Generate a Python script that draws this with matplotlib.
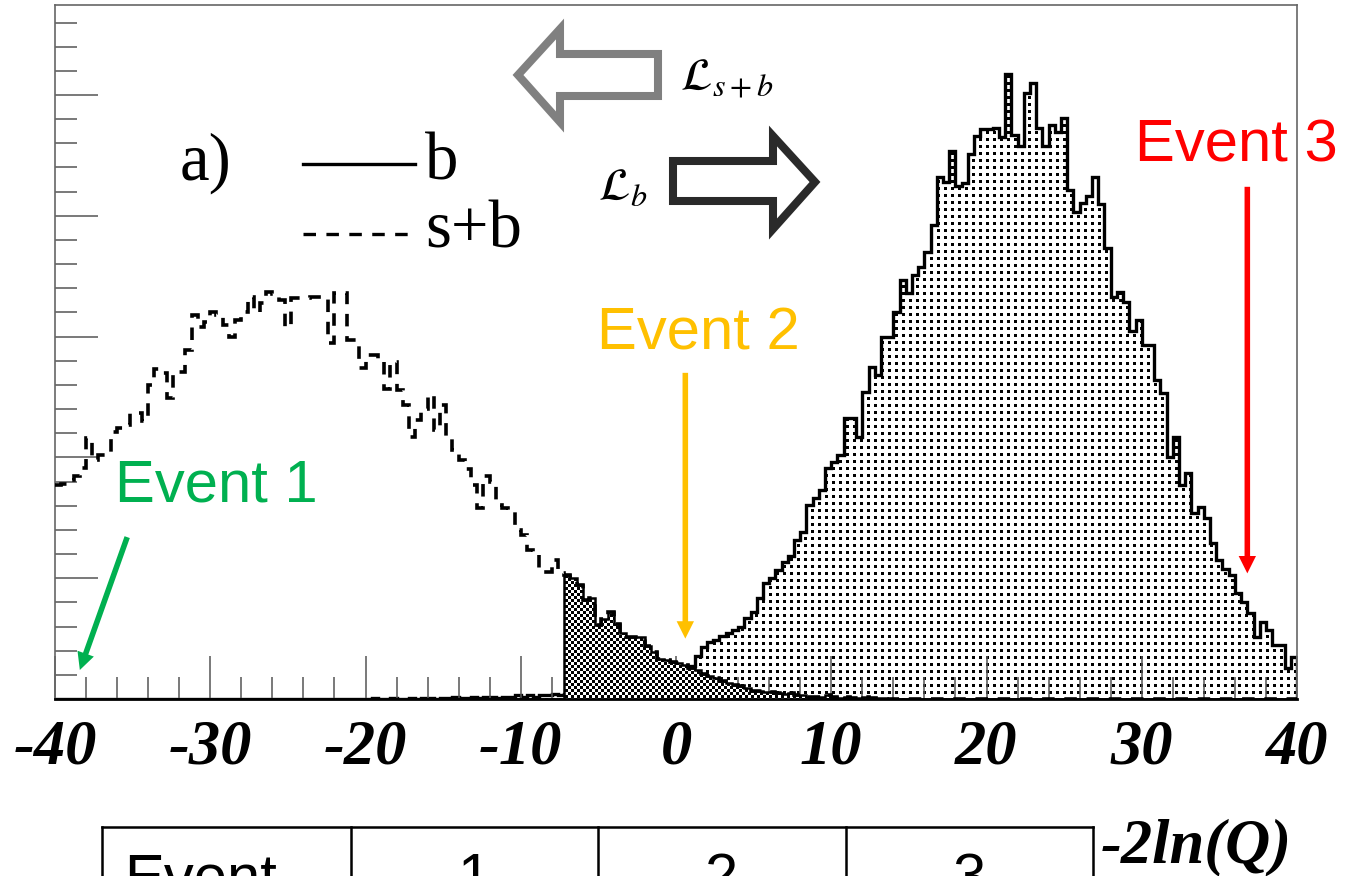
import numpy as np
import matplotlib
matplotlib.use("Agg")
import matplotlib.pyplot as plt
from matplotlib.patches import Polygon, FancyArrowPatch, ArrowStyle
from matplotlib.lines import Line2D
from matplotlib.ticker import MultipleLocator
from matplotlib.transforms import Affine2D
from matplotlib.font_manager import FontProperties

plt.rcParams["axes.unicode_minus"] = False
plt.rcParams["mathtext.fontset"] = "stix"
plt.rcParams["lines.scale_dashes"] = False

# ---------------------------------------------------------------- data
# binning of the test statistic -2ln(Q)
x_min, x_max, bin_width = -40.0, 40.0, 0.4
edges = np.linspace(x_min, x_max, 201)

# background-only pseudo-experiments (entries per bin)
b_counts = [
    0, 0, 0, 0, 0, 0, 0, 0, 0, 0,
    0, 0, 0, 0, 0, 0, 0, 0, 0, 0,
    0, 0, 0, 0, 0, 0, 0, 0, 0, 0,
    0, 0, 0, 0, 0, 0, 0, 0, 0, 0,
    0, 0, 0, 0, 0, 0, 0, 0, 0, 0,
    0, 1, 0, 0, 1, 0, 0, 1, 0, 1,
    1, 0, 1, 1, 2, 1, 1, 2, 1, 2,
    2, 1, 2, 2, 3, 2, 3, 2, 3, 3,
    4, 3, 4, 5, 4, 6, 5, 7, 6, 8,
    8, 9, 10, 11, 12, 13, 14, 16, 17, 19,
    21, 24, 27, 36, 43, 47, 49, 52, 55, 57,
    60, 67, 72, 84, 96, 100, 107, 113, 118, 132,
    138, 161, 166, 173, 191, 196, 202, 233, 233, 217,
    254, 275, 268, 300, 300, 320, 347, 336, 351, 358,
    370, 392, 432, 428, 454, 425, 427, 451, 466, 472,
    472, 473, 465, 517, 467, 458, 502, 510, 473, 458,
    475, 469, 481, 421, 403, 411, 416, 432, 410, 373,
    333, 337, 329, 305, 314, 293, 293, 264, 253, 200,
    217, 177, 187, 154, 159, 150, 129, 115, 108, 103,
    88, 80, 71, 51, 64, 57, 45, 45, 26, 35,
]

# signal+background pseudo-experiments (entries per bin)
sb_counts = [
    177, 178, 181, 185, 191, 216, 198, 202, 204, 221,
    224, 227, 237, 237, 230, 260, 273, 270, 249, 271,
    271, 289, 318, 308, 312, 320, 318, 310, 300, 314,
    320, 333, 320, 328, 337, 335, 330, 308, 332, 332,
    332, 333, 333, 331, 295, 336, 336, 297, 297, 274,
    285, 285, 281, 257, 279, 256, 243, 217, 231, 240,
    252, 223, 243, 215, 206, 198, 190, 177, 158, 185,
    180, 161, 158, 155, 140, 136, 123, 120, 105, 105,
    115, 104, 103, 100, 94, 82, 84, 61, 66, 72,
    62, 55, 51, 51, 51, 44, 39, 33, 32, 31,
    30, 28, 26, 24, 21, 19, 17, 15, 13, 12,
    11, 9, 7, 7, 6, 6, 5, 4, 5, 3,
    3, 2, 2, 2, 3, 2, 1, 2, 1, 1,
    2, 1, 1, 1, 0, 0, 0, 0, 0, 0,
    0, 0, 0, 0, 0, 0, 0, 0, 0, 0,
    0, 0, 0, 0, 0, 0, 0, 0, 0, 0,
    0, 0, 0, 0, 0, 0, 0, 0, 0, 0,
    0, 0, 0, 0, 0, 0, 0, 0, 0, 0,
    0, 0, 0, 0, 0, 0, 0, 0, 0, 0,
    0, 0, 0, 0, 0, 0, 0, 0, 0, 0,
]

# s+b tail shaded above this value of -2ln(Q)
tail_start = -7.2

# three example events: -2ln(Q) value and colour
event_names = ["Event 1", "Event 2", "Event 3"]
event_values = [-38.4, 0.6, 36.8]
event_colors = ["#00B050", "#FFC000", "#FF0000"]

tick_values = [-40, -30, -20, -10, 0, 10, 20, 30, 40]
tick_labels = ["-40", "-30", "-20", "-10", "0", "10", "20", "30", "40"]

table_header = ["Event", "1", "2", "3"]

b = np.asarray(b_counts, dtype=float)
sb = np.asarray(sb_counts, dtype=float)
sb_tail = np.where(edges[:-1] >= tail_start - 1e-9, sb, 0.0)

# ---------------------------------------------------------------- figure
W_PX, H_PX = 1347, 876
fig = plt.figure(figsize=(W_PX / 100, H_PX / 100), dpi=100)
fig.patch.set_facecolor("white")
# pixel coordinates measured from the top-left corner of the canvas
pix = Affine2D().scale(1 / W_PX, -1 / H_PX).translate(0, 1) + fig.transFigure

ax_l, ax_r, ax_t, ax_b = 55, 1297, 5, 699
ax = fig.add_axes([ax_l / W_PX, (H_PX - ax_b) / H_PX,
                   (ax_r - ax_l) / W_PX, (ax_b - ax_t) / H_PX])
y_top = 574.5

# fill textures, one pixel per array cell
aw, ah = ax_r - ax_l, ax_b - ax_t
yy, xx = np.mgrid[0:ah, 0:aw]
dots = ((xx % 7) < 3) & ((yy % 7) < 3)
dots_rgba = np.zeros((ah, aw, 4))
dots_rgba[..., 3] = dots.astype(float)
checker = ((xx // 3 + yy // 3) % 2) == 0
check_rgba = np.ones((ah, aw, 4))
check_rgba[..., :3] = np.where(checker, 0.0, 1.0)[..., None]

# background distribution: dotted fill with solid outline
b_fill = ax.stairs(b, edges, fill=True, facecolor="white", edgecolor="none", zorder=1)
im_b = ax.imshow(dots_rgba, extent=(x_min, x_max, 0, y_top), origin="upper",
                 interpolation="nearest", aspect="auto", zorder=1.1)
im_b.set_clip_path(b_fill)
ax.stairs(b, edges, color="black", lw=2.4, zorder=1.5)

# s+b tail beyond the cut: checkered fill
tail_fill = ax.stairs(sb_tail, edges, fill=True, facecolor="white",
                      edgecolor="none", zorder=2)
im_t = ax.imshow(check_rgba, extent=(x_min, x_max, 0, y_top), origin="upper",
                 interpolation="nearest", aspect="auto", zorder=2.1)
im_t.set_clip_path(tail_fill)
ax.stairs(sb_tail, edges, color="black", lw=1.8, zorder=2.5)

# signal+background distribution: dashed outline
ax.stairs(sb, edges, baseline=None, color="black", lw=2.6,
          linestyle=(0, (9.0, 7.0)), zorder=3)

ax.set_xlim(x_min, x_max)
ax.set_ylim(0, y_top)

# axes frame and ticks
for side in ("left", "top", "right"):
    ax.spines[side].set_color("#666666")
    ax.spines[side].set_linewidth(1.2)
ax.spines["bottom"].set_color("black")
ax.spines["bottom"].set_linewidth(2.0)

ax.xaxis.set_major_locator(MultipleLocator(10))
ax.xaxis.set_minor_locator(MultipleLocator(2))
ax.yaxis.set_major_locator(MultipleLocator(100))
ax.yaxis.set_minor_locator(MultipleLocator(20))
ax.tick_params(which="both", direction="in", color="#555555", width=1.1,
               top=False, right=False)
ax.tick_params(which="major", length=31)
ax.tick_params(which="minor", length=15.5)
ax.tick_params(axis="y", labelleft=False)
ax.tick_params(axis="x", pad=15)
label_font = FontProperties(family="Liberation Serif", style="italic",
                            weight="bold", size=45)
ax.set_xticks(tick_values)
ax.set_xticklabels(tick_labels, fontproperties=label_font)

# axis title
fig.text(1292, 862, "-2ln(Q)", transform=pix, ha="right", va="baseline",
         fontproperties=label_font)

# panel tag and legend
serif = dict(family="Liberation Serif", size=48, color="black")
fig.text(180, 180, "a)", transform=pix, ha="left", va="baseline", **serif)
fig.add_artist(Line2D([303, 415], [164, 164], transform=pix, color="black", lw=2.4))
fig.text(425, 180, "b", transform=pix, ha="left", va="baseline", **serif)
fig.add_artist(Line2D([303, 412], [234, 234], transform=pix, color="black",
                      lw=2.4, linestyle=(0, (9, 7.5))))
fig.text(425, 247, "s+b", transform=pix, ha="left", va="baseline", **serif)

# likelihood direction arrows (hollow block arrows)
left_arrow = [(518, 75), (560, 29), (560, 54), (658, 54),
              (658, 96), (560, 96), (560, 122)]
fig.add_artist(Polygon(left_arrow, closed=True, transform=pix, fill=False,
                       edgecolor="#808080", lw=5.8, joinstyle="miter"))
fig.text(680, 91, r"$\mathcal{L}_{s+b}$", transform=pix, ha="left",
         va="baseline", fontsize=33, color="black")

right_arrow = [(673, 161), (773, 161), (773, 136), (815, 182),
               (773, 229), (773, 201), (673, 201)]
fig.add_artist(Polygon(right_arrow, closed=True, transform=pix, fill=False,
                       edgecolor="#2a2a2a", lw=5.8, joinstyle="miter"))
fig.text(598, 200, r"$\mathcal{L}_{b}$", transform=pix, ha="left",
         va="baseline", fontsize=33, color="black")

# event markers
sans = dict(family="Liberation Sans", size=43)
event_text_px = [(115, 502), (597, 350), (1135, 162)]
arrow_tail = [(-35.35, 134), (0.6, 270), (36.8, 424)]
arrow_tip_y = [24, 50, 104]
for name, val, col, (tx, ty), (sx, sy), tip_y in zip(
        event_names, event_values, event_colors, event_text_px, arrow_tail, arrow_tip_y):
    fig.text(tx, ty, name, transform=pix, ha="left", va="baseline", color=col, **sans)
    arr = FancyArrowPatch((sx, sy), (val, tip_y),
                          arrowstyle=ArrowStyle.Simple(head_length=12.5,
                                                       head_width=12.5,
                                                       tail_width=4.0),
                          mutation_scale=1, shrinkA=0, shrinkB=0,
                          color=col, lw=0, zorder=6)
    ax.add_patch(arr)

# event table (header row, continues below the canvas)
tab_top = 827
col_x = [102, 351, 598, 846, 1093]
fig.add_artist(Line2D([col_x[0], col_x[-1]], [tab_top, tab_top], transform=pix,
                      color="black", lw=1.8))
for cx in col_x:
    fig.add_artist(Line2D([cx, cx], [tab_top, 900], transform=pix,
                          color="black", lw=1.8))
fig.text(124, 895, table_header[0], transform=pix, ha="left", va="baseline", **sans)
for i, lab in enumerate(table_header[1:]):
    cx = 0.5 * (col_x[i + 1] + col_x[i + 2])
    fig.text(cx, 895, lab, transform=pix, ha="center", va="baseline", **sans)

fig.savefig("out.png", dpi=100)
